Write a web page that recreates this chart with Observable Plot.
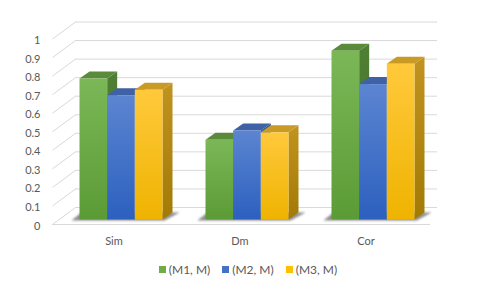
<!DOCTYPE html>
<html><head><meta charset="utf-8">
<script src="https://cdn.jsdelivr.net/npm/d3@7"></script>
<script src="https://cdn.jsdelivr.net/npm/@observablehq/plot@0.6"></script>
<style>
html,body{margin:0;padding:0;background:#fff;}
#chart{width:502px;height:283px;overflow:hidden;font-family:Lato,sans-serif;}
#chart .lg-swatches{font-family:Lato,sans-serif;font-size:12px;color:#595959;margin:0;}
#chart .lg-swatches-wrap{justify-content:center;min-height:0;height:27px;align-items:center;padding-left:0;padding-right:6px;}
#chart .lg-swatches-wrap .lg-swatch{margin-right:12px;}
#chart .lg-swatches-wrap .lg-swatch:last-child{margin-right:0;}
#chart .lg-swatch > svg{margin-right:3px;}
</style></head><body><div id="chart"></div>
<script>
// ---- data ----
const categories = ["Sim", "Dm", "Cor"];
const seriesNames = ["(M1, M)", "(M2, M)", "(M3, M)"];
const m1Values = [0.76, 0.43, 0.91];
const m2Values = [0.67, 0.48, 0.73];
const m3Values = [0.70, 0.47, 0.84];
const yTicks = [0, 0.1, 0.2, 0.3, 0.4, 0.5, 0.6, 0.7, 0.8, 0.9, 1];
const seriesColors = ["#70ad47", "#4472c4", "#ffc000"];

// ---- styling / layout ----
const frontGrad = [["#7bb757", "#5b9b35"], ["#5c85d1", "#2c60bf"], ["#ffc93c", "#efb300"]];
const sideGrad = [["#4f7f33", "#44722a"], ["#34599c", "#2a4d8c"], ["#c1931f", "#a27a06"]];
const topFill = ["#598b3b", "#3f62a6", "#c99a24"];
const W = 502, H = 256;
const xRange = [58, 436], yRange = [219.5, 34];
const kx = (xRange[1] - xRange[0]) / 3;      // px per category unit
const ky = yRange[0] - yRange[1];            // px per value unit
const barDepth = [10, 7];                    // px right, px up
const frontOff = [-6, 4.5], backOff = [17, -12.5];
const groupWidth = 83 / 126;
const barW = groupWidth / 3;

const allValues = [m1Values, m2Values, m3Values];
const rows = [];
allValues.forEach((vals, j) => vals.forEach((v, i) => rows.push({
  key: categories[i] + "|" + seriesNames[j], i, j, value: v,
  x1: i - groupWidth / 2 + j * barW,
  x2: i - groupWidth / 2 + (j + 1) * barW
})));
const bdx = barDepth[0] / kx, bdy = barDepth[1] / ky;

const sideData = rows.flatMap(r => [
  {key: r.key, j: r.j, x: r.x2, lo: 0, hi: r.value},
  {key: r.key, j: r.j, x: r.x2 + bdx, lo: bdy, hi: r.value + bdy}
]);
const topData = rows.flatMap(r => [
  {key: r.key, j: r.j, y: r.value, a: r.x1, b: r.x2},
  {key: r.key, j: r.j, y: r.value + bdy, a: r.x1 + bdx, b: r.x2 + bdx}
]);
const shadowData = categories.flatMap((c, i) => {
  const a = i - groupWidth / 2, b = i + groupWidth / 2;
  return [
    {key: c, y: -1 / ky, a: a - 8 / kx, b: b + 2 / kx},
    {key: c, y: 7 / ky, a: a + 2 / kx, b: b + 17 / kx}
  ];
});

function defs() {
  const d = d3.create("svg:defs");
  const mk = (id, c) => {
    const g = d.append("linearGradient").attr("id", id).attr("x1", 0).attr("y1", 0).attr("x2", 0).attr("y2", 1);
    g.append("stop").attr("offset", "0%").attr("stop-color", c[0]);
    g.append("stop").attr("offset", "100%").attr("stop-color", c[1]);
  };
  frontGrad.forEach((c, j) => mk("fg" + j, c));
  sideGrad.forEach((c, j) => mk("sg" + j, c));
  const f = d.append("filter").attr("id", "blur").attr("x", "-50%").attr("y", "-50%").attr("width", "200%").attr("height", "200%");
  f.append("feGaussianBlur").attr("stdDeviation", 1.3);
  return d.node();
}

const SHADOW = "#404040";
const marks = [
  defs,
  // back wall gridlines
  Plot.ruleY(yTicks, {y: d => d, stroke: "#d9d9d9", strokeWidth: 1, dx: backOff[0], dy: backOff[1], insetRight: 16}),
  // left wall diagonals
  Plot.link(yTicks, {
    x1: d => -0.5 + frontOff[0] / kx, y1: d => d - frontOff[1] / ky,
    x2: d => -0.5 + backOff[0] / kx, y2: d => d - backOff[1] / ky,
    stroke: "#d9d9d9", strokeWidth: 1
  }),
  // floor front edge
  Plot.ruleY([0], {stroke: "#d9d9d9", strokeWidth: 1.2, dx: frontOff[0], dy: frontOff[1]}),
  // floor shadows
  Plot.area(shadowData, {y1: "y", x1: "a", x2: "b", z: "key", fill: SHADOW, fillOpacity: 0.6}),
  // side faces
  ...seriesNames.map((s, j) => Plot.area(sideData.filter(d => d.j === j), {x1: "x", y1: "lo", y2: "hi", z: "key", fill: `url(#sg${j})`})),
  // top faces
  ...seriesNames.map((s, j) => Plot.area(topData.filter(d => d.j === j), {y1: "y", x1: "a", x2: "b", z: "key", fill: topFill[j]})),
  // front faces
  ...seriesNames.map((s, j) => Plot.rect(rows.filter(d => d.j === j), {x1: "x1", x2: "x2", y1: d => 0, y2: "value", fill: `url(#fg${j})`})),
  Plot.axisY({ticks: yTicks, tickFormat: d => String(d), tickSize: 0, tickPadding: 18, dy: 6, fontSize: 11, fill: "#595959"}),
  Plot.axisX({ticks: [0, 1, 2], tickFormat: i => categories[i], tickSize: 0, tickPadding: 17, dx: -7.5, fontSize: 11, fill: "#595959"})
];

const chart = Plot.plot({
  width: W, height: H,
  marginLeft: xRange[0], marginRight: W - xRange[1],
  marginTop: yRange[1], marginBottom: H - yRange[0],
  x: {type: "linear", domain: [-0.5, 2.5], axis: null},
  y: {type: "linear", domain: [0, 1], axis: null},
  style: {fontFamily: "Lato, sans-serif", fontSize: "11px", color: "#595959", background: "white", overflow: "visible"},
  marks
});
d3.select(chart).selectAll(`g[fill="${SHADOW}"]`).attr("filter", "url(#blur)");
const root = document.getElementById("chart");
root.appendChild(chart);
const legend = Plot.legend({color: {type: "ordinal", domain: seriesNames, range: seriesColors}, swatchSize: 7, className: "lg"});
root.appendChild(legend);
</script></body></html>
